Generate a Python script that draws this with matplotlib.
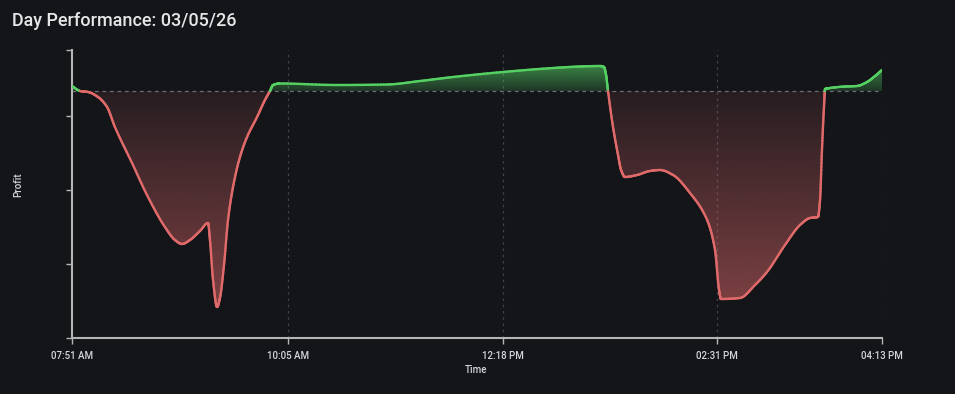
import datetime
import numpy as np
import matplotlib
matplotlib.use('Agg')
import matplotlib.pyplot as plt
import matplotlib.dates as mdates
from matplotlib.collections import LineCollection
from matplotlib.patches import Polygon

# session data (minutes after the open, profit)
session_start = datetime.datetime(2026, 3, 5, 7, 51)
minutes = [0, 5.0, 9.9, 16.1, 21.7, 26.6, 37.2, 47.1, 57.6, 63.8, 68.2, 73.1, 79.3, 84.3,
           85.5, 87.4, 89.9, 91.7, 94.2, 96.7, 99.8, 104.1, 108.5, 114.7, 119.6, 122.7,
           124.6, 128.9, 164.2, 195.2, 215.7, 236.1, 267.1, 298.1, 314.8, 327.2, 329.7,
           331.0, 332.2, 335.3, 338.4, 340.3, 342.7, 350.2, 358.2, 364.4, 372.5, 383.0,
           393.6, 398.5, 401.0, 402.2, 414.0, 423.3, 430.7, 441.9, 451.2, 457.4, 462.3,
           463.6, 464.8, 466.1, 466.7, 469.8, 479.1, 486.5, 492.7, 497.7, 502.0]
profit = [5, 0, -1, -6, -16, -36, -72, -106, -136, -149, -153, -149, -140, -132,
          -149, -189, -216, -207, -174, -129, -96, -66, -46, -26, -9, 0,
          6, 7.5, 6, 6.5, 10, 14, 19, 23, 24.5, 25, 24,
          16, 0, -36, -64, -79, -86, -84, -80, -79, -84, -102,
          -129, -159, -199, -208, -207, -194, -181, -154, -134, -127, -126,
          -109, -59, -14, 2, 3, 4.5, 5, 9, 15, 21]
tick_labels = ['07:51 AM', '10:05 AM', '12:18 PM', '02:31 PM', '04:13 PM']
tick_minutes = [0, 134, 267, 400, 502]
y_ticks = [-25, -99, -173]
y_limits = (-247, 41)

bg = '#131519'
green = '#55d163'
red = '#e06a6a'

x = mdates.date2num([session_start + datetime.timedelta(minutes=m) for m in minutes])
y = np.array(profit, dtype=float)


def monotone_curve(x, y, steps=16):
    # monotone cubic drawing curve through the points (like d3 curveMonotoneX)
    h = np.diff(x)
    d = np.diff(y) / h
    m = np.zeros_like(y)
    m[0], m[-1] = d[0], d[-1]
    for i in range(1, len(y) - 1):
        if d[i - 1] * d[i] > 0:
            w1 = 2 * h[i] + h[i - 1]
            w2 = h[i] + 2 * h[i - 1]
            m[i] = (w1 + w2) / (w1 / d[i - 1] + w2 / d[i])
    cx, cy = [x[0]], [y[0]]
    for i in range(len(x) - 1):
        t = np.linspace(0, 1, steps + 1)[1:]
        h00 = 2 * t**3 - 3 * t**2 + 1
        h10 = t**3 - 2 * t**2 + t
        h01 = -2 * t**3 + 3 * t**2
        h11 = t**3 - t**2
        cx.extend(x[i] + t * h[i])
        cy.extend(h00 * y[i] + h10 * h[i] * m[i] + h01 * y[i + 1] + h11 * h[i] * m[i + 1])
    return np.array(cx), np.array(cy)


cx, cy = monotone_curve(x, y)

# split the curve where it crosses zero
xs, ys = [cx[0]], [cy[0]]
for i in range(1, len(cx)):
    if cy[i - 1] * cy[i] < 0:
        f = cy[i - 1] / (cy[i - 1] - cy[i])
        xs.append(cx[i - 1] + f * (cx[i] - cx[i - 1]))
        ys.append(0.0)
    xs.append(cx[i])
    ys.append(cy[i])
xs = np.array(xs)
ys = np.array(ys)

fig = plt.figure(figsize=(9.55, 3.94), dpi=100, facecolor=bg)
ax = fig.add_axes([72 / 955, 1 - 338 / 394, 810 / 955, 288 / 394])
ax.set_facecolor(bg)

tick_x = mdates.date2num([session_start + datetime.timedelta(minutes=m) for m in tick_minutes])


# gradient fills clipped to the area between curve and zero
def gradient(y0, y1, rgb, a0, a1, verts):
    n = 256
    img = np.zeros((n, 1, 4))
    img[:, :, :3] = matplotlib.colors.to_rgb(rgb)
    img[:, 0, 3] = np.linspace(a0, a1, n)
    im = ax.imshow(img, extent=(xs[0], xs[-1], y0, y1), origin='lower',
                   aspect='auto', interpolation='bilinear', zorder=1)
    poly = Polygon(verts, closed=True, facecolor='none', edgecolor='none',
                   transform=ax.transData)
    ax.add_patch(poly)
    im.set_clip_path(poly)


neg = np.minimum(ys, 0)
pos = np.maximum(ys, 0)
gradient(ys.min(), 0, red, 0.52, 0.1,
         list(zip(xs, neg)) + [(xs[-1], 0), (xs[0], 0)])
gradient(0, ys.max(), green, 0.18, 0.58,
         list(zip(xs, pos)) + [(xs[-1], 0), (xs[0], 0)])
ax.set_xlim(tick_x[0], tick_x[-1])
ax.set_ylim(*y_limits)

pts = np.column_stack([xs, ys])
segs = np.stack([pts[:-1], pts[1:]], axis=1)
mids = (ys[:-1] + ys[1:]) / 2
colors = [green if m >= 0 else red for m in mids]
lc = LineCollection(segs, colors=colors, linewidths=1.7, capstyle='round',
                    joinstyle='round', zorder=3)
ax.add_collection(lc)

ax.axhline(0, color='#6b6e73', lw=0.9, ls=(0, (3, 3)), zorder=2)
for tx in tick_x[1:]:
    ax.axvline(tx, color='#404349', lw=0.9, ls=(0, (2, 3)), zorder=0)

for s in ['top', 'right']:
    ax.spines[s].set_visible(False)
for s in ['left', 'bottom']:
    ax.spines[s].set_color('#b5b5b5')
    ax.spines[s].set_linewidth(1.5)

ax.set_xticks(tick_x)
ax.set_xticklabels(tick_labels)
ax.set_yticks(list(y_limits) + y_ticks)
ax.set_yticklabels([])
ax.tick_params(axis='x', colors='#b5b5b5', length=4.5, width=1, pad=5,
               labelcolor='#d4d6d9', labelsize=7)
ax.tick_params(axis='y', colors='#b5b5b5', length=4, width=1)
for lab in ax.get_xticklabels():
    lab.set_family('Roboto')
    lab.set_fontweight('medium')

fig.text(12 / 955, 1 - 21 / 394, 'Day Performance: 03/05/26', color='#e4e6e8',
         fontsize=13, family='Roboto', fontweight='medium', va='center', ha='left')
fig.text(476 / 955, 1 - 370 / 394, 'Time', color='#d4d6d9', fontsize=7,
         family='Roboto', fontweight='medium', ha='center', va='center')
fig.text(18 / 955, 1 - 185 / 394, 'Profit', color='#d4d6d9', fontsize=7,
         family='Roboto', fontweight='medium', ha='center', va='center', rotation=90)

fig.savefig('out.png', dpi=100, facecolor=bg)
